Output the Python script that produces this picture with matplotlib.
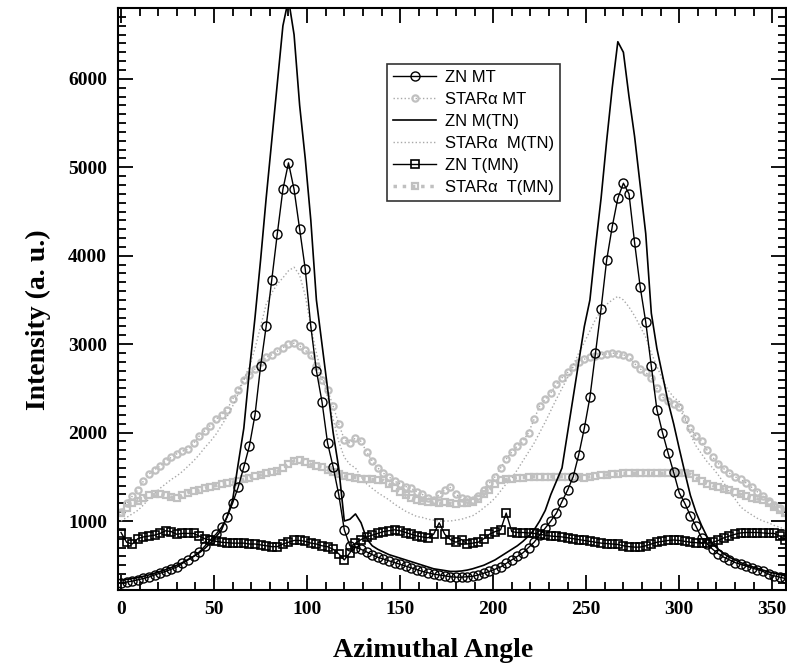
import matplotlib
matplotlib.use("Agg")
import matplotlib.pyplot as plt
from matplotlib.ticker import MultipleLocator

# Azimuthal angle grid (degrees)
angle = list(range(0, 360, 3))

zn_mt = [300, 310, 320, 335, 350, 366, 390, 410, 430, 455, 480, 520, 560, 600, 650, 715, 785, 850, 930, 1045,
         1204, 1385, 1611, 1850, 2200, 2750, 3200, 3726, 4250, 4750, 5050, 4750, 4300, 3850, 3200, 2700, 2350, 1882, 1611, 1300,
         900, 720, 700, 680, 650, 620, 590, 570, 550, 530, 510, 490, 470, 450, 430, 415, 400, 390, 380, 370,
         365, 365, 370, 375, 390, 410, 430, 455, 480, 520, 560, 600, 640, 700, 760, 840, 920, 1000, 1090, 1220,
         1350, 1500, 1750, 2050, 2400, 2900, 3400, 3950, 4330, 4650, 4820, 4700, 4150, 3650, 3250, 2750, 2260, 2000, 1770, 1550,
         1320, 1200, 1060, 940, 810, 740, 680, 630, 590, 560, 530, 510, 490, 470, 450, 430, 400, 380, 365, 350]

star_mt = [1100, 1200, 1280, 1350, 1450, 1530, 1580, 1620, 1680, 1720, 1760, 1790, 1810, 1880, 1960, 2020, 2080, 2150, 2200, 2260,
           2380, 2480, 2600, 2650, 2720, 2800, 2850, 2880, 2920, 2960, 3000, 3010, 2980, 2930, 2880, 2750, 2600, 2480, 2300, 2100,
           1920, 1880, 1940, 1900, 1780, 1680, 1600, 1540, 1500, 1450, 1420, 1390, 1370, 1330, 1300, 1260, 1240, 1300, 1350, 1380,
           1300, 1260, 1250, 1240, 1280, 1350, 1430, 1500, 1600, 1700, 1780, 1850, 1900, 2000, 2150, 2300, 2380, 2450, 2550, 2620,
           2680, 2740, 2800, 2830, 2850, 2870, 2880, 2890, 2900, 2890, 2880, 2850, 2780, 2720, 2680, 2620, 2500, 2400, 2360, 2320,
           2290, 2150, 2050, 1960, 1900, 1800, 1720, 1650, 1590, 1540, 1500, 1470, 1430, 1380, 1330, 1280, 1230, 1180, 1150, 1100]

zn_m_tn = [330, 340, 350, 360, 375, 390, 410, 430, 450, 475, 500, 530, 565, 600, 640, 690, 750, 820, 900, 1050,
           1240, 1650, 2050, 2700, 3300, 3950, 4650, 5300, 5950, 6600, 6900, 6500, 5700, 5100, 4400, 3500, 3000, 2500, 2000, 1600,
           1000, 1020, 1080, 980, 800, 720, 680, 650, 620, 600, 580, 560, 540, 520, 500, 480, 460, 450, 440, 430,
           430, 435, 445, 460, 480, 500, 530, 560, 600, 640, 680, 720, 770, 830, 900, 1000, 1120, 1300, 1450, 1600,
           2000, 2400, 2800, 3200, 3500, 4100, 4650, 5300, 5900, 6420, 6300, 5800, 5350, 4800, 4250, 3350, 2950, 2650, 2350, 2100,
           1820, 1550, 1290, 1100, 950, 820, 740, 680, 630, 590, 560, 530, 505, 485, 465, 445, 425, 410, 395, 380]

star_m_tn = [1000, 1040, 1080, 1120, 1180, 1250, 1310, 1370, 1420, 1470, 1510, 1560, 1620, 1680, 1750, 1830, 1900, 1980, 2080, 2180,
             2300, 2440, 2600, 2750, 2950, 3200, 3450, 3580, 3680, 3750, 3830, 3870, 3780, 3550, 3200, 2900, 2650, 2400, 2150, 1900,
             1720, 1640, 1600, 1500, 1420, 1370, 1320, 1280, 1240, 1190, 1150, 1110, 1080, 1050, 1040, 1020, 1010, 1000, 1000, 1000,
             1010, 1020, 1040, 1060, 1100, 1150, 1200, 1260, 1340, 1420, 1480, 1580, 1680, 1780, 1880, 2000, 2120, 2250, 2380, 2500,
             2620, 2760, 2900, 3020, 3150, 3280, 3380, 3450, 3500, 3540, 3500, 3420, 3320, 3200, 3080, 2900, 2750, 2600, 2480, 2400,
             2350, 2180, 1980, 1850, 1760, 1670, 1600, 1520, 1430, 1330, 1250, 1160, 1110, 1070, 1030, 1000, 980, 950, 930, 900]

zn_t_mn = [870, 760, 740, 800, 820, 830, 840, 860, 890, 880, 850, 860, 860, 860, 830, 800, 785, 770, 760, 755,
           750, 750, 750, 740, 740, 730, 720, 710, 710, 740, 760, 780, 780, 770, 750, 740, 720, 710, 680, 630,
           560, 640, 750, 790, 820, 840, 860, 880, 890, 900, 890, 870, 850, 830, 820, 810, 850, 980, 850, 790,
           760, 790, 740, 750, 760, 800, 850, 880, 900, 1090, 880, 870, 870, 865, 860, 850, 840, 830, 825, 820,
           810, 800, 790, 780, 770, 760, 750, 745, 740, 735, 720, 710, 705, 705, 720, 740, 760, 770, 780, 785,
           780, 770, 760, 755, 750, 750, 760, 780, 810, 830, 850, 865, 870, 870, 870, 865, 860, 860, 830, 790]

star_t_mn = [1090, 1150, 1200, 1230, 1260, 1290, 1300, 1310, 1290, 1270, 1260, 1290, 1320, 1340, 1350, 1370, 1390, 1400, 1420, 1430,
             1440, 1450, 1470, 1490, 1510, 1520, 1540, 1550, 1560, 1600, 1650, 1680, 1690, 1670, 1640, 1620, 1610, 1580, 1550, 1530,
             1510, 1500, 1490, 1480, 1475, 1470, 1465, 1460, 1420, 1370, 1330, 1290, 1260, 1240, 1230, 1220, 1210, 1200, 1210, 1200,
             1190, 1200, 1200, 1210, 1250, 1300, 1350, 1420, 1460, 1470, 1480, 1490, 1490, 1495, 1500, 1500, 1500, 1500, 1500, 1500,
             1500, 1500, 1500, 1490, 1500, 1510, 1520, 1520, 1530, 1530, 1540, 1540, 1540, 1545, 1545, 1540, 1540, 1540, 1545, 1545,
             1545, 1540, 1530, 1490, 1450, 1420, 1400, 1380, 1360, 1350, 1330, 1300, 1280, 1260, 1250, 1240, 1200, 1160, 1120, 1090]

x_ticks = [0, 50, 100, 150, 200, 250, 300, 350]
y_ticks = [1000, 2000, 3000, 4000, 5000, 6000]

serif = "Liberation Serif"
sans = "Liberation Sans"

fig = plt.figure(figsize=(7.87, 6.65), dpi=100)
ax = fig.add_axes([0.150, 0.1128, 0.849, 0.875])

gray_dark = "#a8a8a8"
gray_light = "#c0c0c0"

ax.plot(angle, zn_mt, color="black", lw=1.0, marker="o", ms=6.5, mfc="none", mec="black", mew=1.0,
        label="ZN MT", zorder=5)
ax.plot(angle, star_mt, color=gray_dark, lw=1.0, ls=":", marker="o", ms=4.5, mfc="none", mec=gray_light, mew=1.6,
        label="STAR\u03b1 MT", zorder=2)
ax.plot(angle, zn_m_tn, color="black", lw=1.2, label="ZN M(TN)", zorder=4)
ax.plot(angle, star_m_tn, color=gray_dark, lw=1.0, ls=":", label="STAR\u03b1  M(TN)", zorder=2)
ax.plot(angle, zn_t_mn, color="black", lw=1.0, marker="s", ms=5.5, mfc="none", mec="black", mew=1.2,
        label="ZN T(MN)", zorder=5)
ax.plot(angle, star_t_mn, color=gray_light, lw=2.5, ls=":", marker="s", ms=4.5, mfc="none", mec=gray_light, mew=1.6,
        label="STAR\u03b1  T(MN)", zorder=2)

ax.set_xlim(-1.6, 357.5)
ax.set_ylim(220, 6800)
ax.set_xticks(x_ticks)
ax.set_yticks(y_ticks)
ax.xaxis.set_minor_locator(MultipleLocator(10))
ax.yaxis.set_minor_locator(MultipleLocator(100))
ax.tick_params(which="both", direction="in", top=True, right=True, width=1.3)
ax.tick_params(which="major", length=11)
ax.tick_params(which="minor", length=6)
ax.tick_params(axis="both", which="major", labelsize=14, pad=8)
for lab in ax.get_xticklabels() + ax.get_yticklabels():
    lab.set_fontfamily(serif)
    lab.set_fontweight("bold")
for s in ax.spines.values():
    s.set_linewidth(1.5)

ax.set_xlabel("Azimuthal Angle", fontfamily=serif, fontweight="bold", fontsize=20)
ax.set_ylabel("Intensity (a. u.)", fontfamily=serif, fontweight="bold", fontsize=20)
ax.xaxis.set_label_coords(0.472, -0.083)
ax.yaxis.set_label_coords(-0.10, 0.464)

leg = ax.legend(loc="upper left", bbox_to_anchor=(0.403, 0.904), frameon=True, fancybox=False,
                prop={"family": sans, "size": 12}, handlelength=2.6, borderpad=0.35,
                labelspacing=0.42, handletextpad=0.5, borderaxespad=0)
leg.get_frame().set_edgecolor("black")
leg.get_frame().set_linewidth(1.2)

fig.savefig("out.png", dpi=100)
